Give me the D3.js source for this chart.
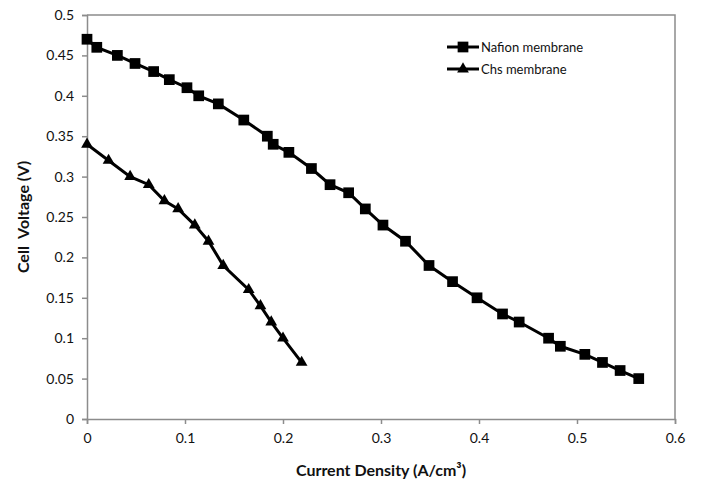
<!DOCTYPE html>
<html>
<head>
<meta charset="utf-8">
<script src="https://cdn.jsdelivr.net/npm/d3@7"></script>
<style>
  html, body { margin: 0; padding: 0; background: #fff; }
  svg { display: block; font-family: Lato, "Open Sans", sans-serif; }
</style>
</head>
<body>
<svg id="chart" width="702" height="487"></svg>
<script>
// ---- data ----
const nafionCurrent = [0, 0.010, 0.031, 0.049, 0.068, 0.084, 0.102, 0.114, 0.134, 0.160, 0.184, 0.190, 0.206, 0.229, 0.248, 0.267, 0.284, 0.302, 0.325, 0.349, 0.373, 0.398, 0.424, 0.441, 0.471, 0.483, 0.508, 0.526, 0.544, 0.563];
const nafionVoltage = [0.47, 0.46, 0.45, 0.44, 0.43, 0.42, 0.41, 0.40, 0.39, 0.37, 0.35, 0.34, 0.33, 0.31, 0.29, 0.28, 0.26, 0.24, 0.22, 0.19, 0.17, 0.15, 0.13, 0.12, 0.10, 0.09, 0.08, 0.07, 0.06, 0.05];
const chsCurrent = [0, 0.022, 0.044, 0.063, 0.079, 0.093, 0.110, 0.124, 0.139, 0.165, 0.177, 0.188, 0.200, 0.219];
const chsVoltage = [0.34, 0.32, 0.30, 0.29, 0.27, 0.26, 0.24, 0.22, 0.19, 0.16, 0.14, 0.12, 0.10, 0.07];
const xTicks = [0, 0.1, 0.2, 0.3, 0.4, 0.5, 0.6];
const yTicks = [0, 0.05, 0.1, 0.15, 0.2, 0.25, 0.3, 0.35, 0.4, 0.45, 0.5];
const seriesNames = ["Nafion membrane", "Chs membrane"];
const xTitle = "Current Density (A/cm³)";
const yTitle = "Cell  Voltage (V)";

// ---- layout ----
const svg = d3.select("#chart");
const pL = 87, pR = 675, pT = 15, pB = 419;
const x = d3.scaleLinear().domain([0, 0.6]).range([pL, pR]);
const y = d3.scaleLinear().domain([0, 0.5]).range([pB, pT]);
const axisColor = "#8c8c8c";

// plot border (top/right)
svg.append("path")
  .attr("d", `M${pL},${pT}H${pR}V${pB}`)
  .attr("fill", "none").attr("stroke", axisColor).attr("stroke-width", 1.5);

// axes
const fmt = d => String(+d.toFixed(2));
const xAxis = svg.append("g").attr("transform", `translate(0,${pB})`)
  .call(d3.axisBottom(x).tickValues(xTicks).tickSize(5).tickPadding(9).tickFormat(fmt));
const yAxis = svg.append("g").attr("transform", `translate(${pL},0)`)
  .call(d3.axisLeft(y).tickValues(yTicks).tickSize(5).tickPadding(8).tickFormat(fmt));
[xAxis, yAxis].forEach(g => {
  g.select(".domain").attr("stroke", axisColor).attr("stroke-width", 1.5);
  g.selectAll(".tick line").attr("stroke", axisColor).attr("stroke-width", 1.5);
  g.selectAll(".tick text").attr("fill", "#111").style("font-size", "14px").style("font-family", "Lato, 'Open Sans', sans-serif");
});

// titles
svg.append("text").attr("x", (pL + pR) / 2).attr("y", 476)
  .attr("text-anchor", "middle").style("font-size", "16px").style("font-weight", "bold").attr("fill", "#111")
  .text(xTitle);
svg.append("text").attr("transform", `translate(29,${(pT + pB) / 2}) rotate(-90)`)
  .attr("text-anchor", "middle").style("font-size", "16px").style("font-weight", "bold").attr("fill", "#111")
  .style("white-space", "pre")
  .text(yTitle);

// lines
const line = d3.line().x(d => x(d[0])).y(d => y(d[1]));
const nafion = nafionCurrent.map((c, i) => [c, nafionVoltage[i]]);
const chs = chsCurrent.map((c, i) => [c, chsVoltage[i]]);

svg.append("path").datum(nafion).attr("d", line).attr("fill", "none").attr("stroke", "#000").attr("stroke-width", 3);
svg.append("path").datum(chs).attr("d", line).attr("fill", "none").attr("stroke", "#000").attr("stroke-width", 3);

const sq = d3.symbol().type(d3.symbolSquare).size(115);
const tri = d3.symbol().type(d3.symbolTriangle).size(60);

svg.append("g").selectAll("path").data(nafion).join("path")
  .attr("d", sq).attr("transform", d => `translate(${x(d[0])},${y(d[1])})`).attr("fill", "#000");
svg.append("g").selectAll("path").data(chs).join("path")
  .attr("d", tri).attr("transform", d => `translate(${x(d[0])},${y(d[1])})`).attr("fill", "#000");

// legend
const legend = svg.append("g");
const legendRows = [{name: seriesNames[0], sym: sq, y: 47}, {name: seriesNames[1], sym: tri, y: 69}];
legendRows.forEach(r => {
  legend.append("line").attr("x1", 447).attr("x2", 479).attr("y1", r.y).attr("y2", r.y).attr("stroke", "#000").attr("stroke-width", 3);
  legend.append("path").attr("d", r.sym).attr("transform", `translate(463,${r.y})`).attr("fill", "#000");
  legend.append("text").attr("x", 481).attr("y", r.y + 4.5).style("font-size", "13px").attr("fill", "#111").text(r.name);
});
</script>
</body>
</html>
